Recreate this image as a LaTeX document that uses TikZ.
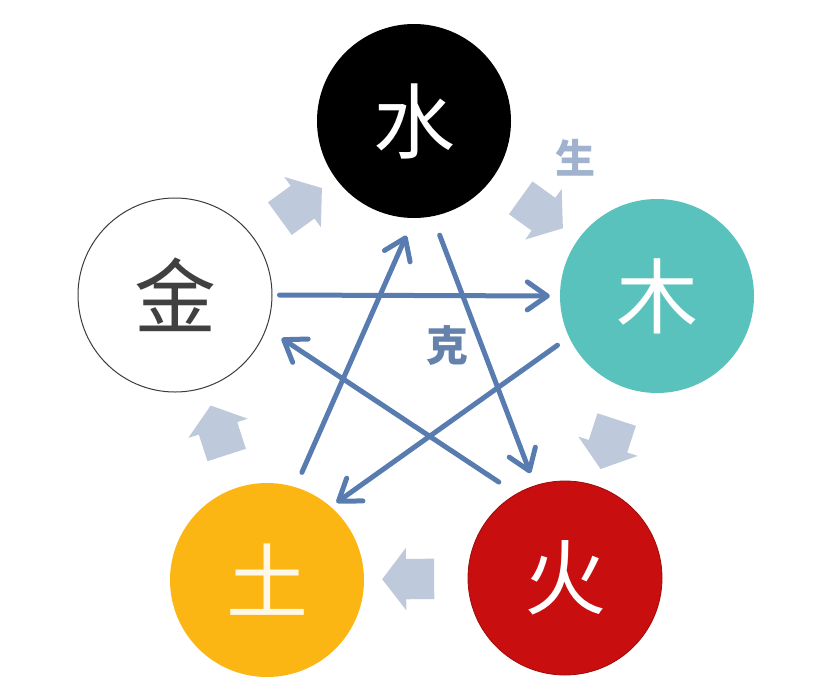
\documentclass[tikz,border=0pt]{standalone}
\usepackage{fontspec}
\newfontfamily\cjk{Noto Sans CJK SC}
\usetikzlibrary{shapes.arrows,arrows.meta}

\definecolor{mucolor}{RGB}{90,194,188}
\definecolor{huocolor}{RGB}{200,14,14}
\definecolor{huoedge}{RGB}{160,10,10}
\definecolor{tucolor}{RGB}{252,182,20}
\definecolor{jinedge}{RGB}{60,60,60}
\definecolor{kecolor}{RGB}{88,124,175}
\definecolor{shengfill}{RGB}{190,201,220}
\definecolor{shengtext}{RGB}{160,178,205}
\definecolor{ketext}{RGB}{100,130,172}

\begin{document}
\begin{tikzpicture}[x=1pt,y=-1pt,
  element/.style={shape=circle,minimum size=194pt,inner sep=0pt,font=\cjk\fontsize{82}{82}\selectfont},
  ke/.style={draw=kecolor,line width=5pt,line cap=round,-{Straight Barb[length=20pt,width=28pt,round]}},
  sheng/.style={single arrow,fill=shengfill,inner xsep=0pt,inner ysep=20pt,minimum height=52pt,
    single arrow head extend=11pt,single arrow tip angle=105,sloped,allow upside down}]
\useasboundingbox (0,0) rectangle (819,689);

\node[element,fill=black,text=white] (shui) at (414,121) {水};
\node[element,fill=mucolor,text=white] (mu) at (657,296) {木};
\node[element,fill=huocolor,draw=huoedge,line width=0.8pt,text=white] (huo) at (565,578) {火};
\node[element,fill=tucolor,text={white!90!tucolor}] (tu) at (267,580) {土};
\node[element,fill=white,draw=jinedge,line width=1pt,text=black!75] (jin) at (175,295) {金};

% sheng cycle
\path (shui) -- node[sheng] (s1) {} (mu);
\path (mu) -- node[sheng] (s2) {} (huo);
\path (huo) -- node[sheng] (s3) {} (tu);
\path (tu) -- node[sheng] (s4) {} (jin);
\path (jin) -- node[sheng] (s5) {} (shui);
\node[text=shengtext,font=\cjk\bfseries\fontsize{40}{40}\selectfont] (shenglabel) at (575,158) {生};

% ke star
\draw [ke,shorten <=7pt,shorten >=10pt] (jin.east) -- (mu.west);
\draw [ke,shorten <=20pt,shorten >=13pt] (shui.-79) -- (huo.108);
\draw [ke,shorten <=21pt,shorten >=18pt] (huo.120) -- (jin.-20);
\draw [ke,shorten <=14pt,shorten >=7pt] (mu.205) -- (tu.49);
\draw [ke,shorten <=16pt,shorten >=19pt] (tu.73) -- (shui.south);
\node[text=ketext,font=\cjk\bfseries\fontsize{42}{42}\selectfont] (kelabel) at (447,346) {克};
\end{tikzpicture}
\end{document}
